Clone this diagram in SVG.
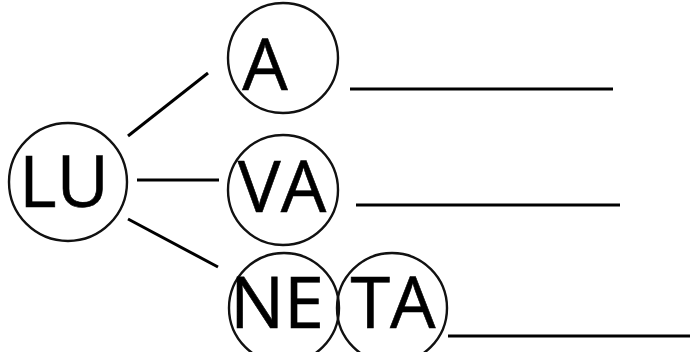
<svg xmlns="http://www.w3.org/2000/svg" width="693" height="352" viewBox="0 0 693 352">
<style>
.n{fill:none;stroke:#111;stroke-width:2.4}
.t{font-family:"Open Sans","DejaVu Sans",sans-serif;font-size:72px;fill:#000;text-anchor:middle;stroke:#000;stroke-width:0.6}
.c{stroke:#000;stroke-width:3;fill:none}
</style>
<rect width="693" height="352" fill="#fff"/>
<g id="connectors">
<line class="c" x1="128" y1="136" x2="208" y2="73"/>
<line class="c" x1="137" y1="180" x2="219" y2="180"/>
<line class="c" x1="128" y1="219" x2="218" y2="267"/>
<line class="c" x1="350" y1="89" x2="613" y2="89"/>
<line class="c" x1="356" y1="205" x2="620" y2="205"/>
<line class="c" x1="448" y1="336" x2="690" y2="336"/>
</g>
<g id="LU"><circle class="n" cx="68" cy="182" r="59"/><text class="t" x="64" y="207" font-size="75">LU</text></g>
<g id="A"><circle class="n" cx="283" cy="58" r="55"/><text class="t" x="265" y="90">A</text></g>
<g id="VA"><circle class="n" cx="283" cy="190" r="55"/><text class="t" x="282" y="212">VA</text></g>
<g id="NE"><circle class="n" cx="284" cy="308" r="55"/><text class="t" x="277" y="328">NE</text></g>
<g id="TA"><circle class="n" cx="392" cy="308" r="55"/><text class="t" x="393" y="328">TA</text></g>
</svg>
